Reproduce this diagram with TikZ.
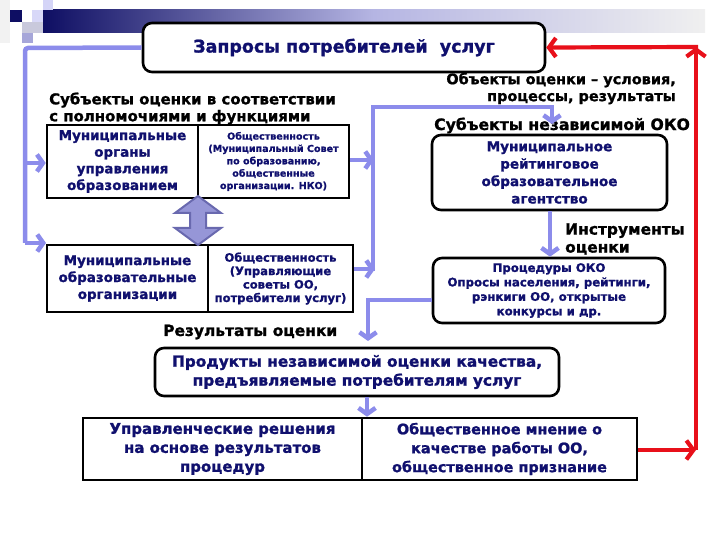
\documentclass[tikz,border=0pt]{standalone}
\usepackage{fontspec}
\setmainfont{DejaVu Sans}[BoldFeatures={FakeBold=1.2}]
\usetikzlibrary{arrows.meta}
\definecolor{navy}{RGB}{16,16,110}
\definecolor{peri}{RGB}{140,140,235}
\definecolor{redl}{RGB}{232,16,26}
\definecolor{darrowfill}{RGB}{150,150,215}
\definecolor{darrowline}{RGB}{105,105,175}
\newcommand{\fs}[2]{\fontsize{#1}{#2}\selectfont}
\tikzset{
  sqbox/.style={draw=black, line width=2.6bp, fill=white, inner sep=0pt, align=center, text=navy, font=\bfseries},
  rbox/.style={sqbox, rounded corners=9bp},
  lbl/.style={inner sep=0pt, font=\bfseries, text=black},
  bluearr/.style={draw=peri, line width=4.5bp, -{Straight Barb[length=6bp,width=17bp]}},
  blueln/.style={draw=peri, line width=4.5bp},
  redarr/.style={draw=redl, line width=4.2bp, -{Straight Barb[length=7bp,width=19bp]}},
  redln/.style={draw=redl, line width=4.2bp}
}
\begin{document}
\begin{tikzpicture}[x=1bp,y=-1bp]
\useasboundingbox (0,0) rectangle (720,540);
\fill[white] (0,0) rectangle (720,540);
% decoration
\shade[left color=navy!90!black, right color=gray!12, middle color=gray!55!blue!40] (43,10) rectangle (705,33);
\fill[gray!10] (0,0) rectangle (10,43);
\fill[navy!90!black] (10,10) rectangle (22,22);
\fill[gray!30!blue!18] (32,10) rectangle (43,22);
\fill[gray!30!blue!20] (43,0) rectangle (53,10);
\fill[blue!22!gray!35] (22,22) rectangle (43,33);
\fill[blue!40!gray!50] (22,33) rectangle (33,43);
% boxes
\node[rbox, minimum width=402bp, minimum height=49bp, font=\bfseries\fs{17.5}{20}] (top) at (344,47.5) {Запросы потребителей \ услуг};
\node[sqbox, minimum width=151bp, minimum height=73bp, font=\bfseries\fs{13.5}{16.7}] (ul1) at (122.5,161.5) {Муниципальные\\органы\\управления\\образованием};
\node[sqbox, minimum width=151bp, minimum height=73bp, font=\bfseries\fs{9.6}{12.4}] (ul2) at (273.5,161.5) {Общественность\\(Муниципальный Совет\\по образованию,\\общественные\\организации. НКО)};
\node[sqbox, minimum width=161bp, minimum height=67bp, font=\bfseries\fs{13.5}{17}] (ll1) at (127.5,278.5) {Муниципальные\\образовательные\\организации};
\node[sqbox, minimum width=145bp, minimum height=67bp, font=\bfseries\fs{11.6}{13.5}] (ll2) at (280.5,278.5) {Общественность\\(Управляющие\\советы ОО,\\потребители услуг)};
\node[rbox, minimum width=235bp, minimum height=75bp, font=\bfseries\fs{13.6}{17.5}] (ag) at (549.5,172.5) {Муниципальное\\рейтинговое\\образовательное\\агентство};
\node[rbox, minimum width=232bp, minimum height=65bp, font=\bfseries\fs{11.8}{14.5}] (pr) at (549,290.5) {Процедуры ОКО\\Опросы населения, рейтинги,\\рэнкиги ОО, открытые\\конкурсы и др.};
\node[rbox, minimum width=404bp, minimum height=48bp, font=\bfseries\fs{15.4}{19}] (pd) at (357,372) {Продукты независимой оценки качества,\\предъявляемые потребителям услуг};
\node[sqbox, minimum width=279bp, minimum height=62bp, font=\bfseries\fs{15}{19}] (b1) at (222.5,449) {Управленческие решения\\на основе результатов\\процедур};
\node[sqbox, minimum width=275bp, minimum height=62bp, font=\bfseries\fs{14.5}{19}] (b2) at (499.5,449) {Общественное мнение о\\качестве работы ОО,\\общественное признание};
% labels
\node[lbl, anchor=west, align=left, font=\bfseries\fs{15}{17}] (lsub) at (49,108.5) {Субъекты оценки в соответствии\\с полномочиями и функциями};
\node[lbl, anchor=east, align=right, font=\bfseries\fs{14.5}{17}] (lobj) at (676,88.5) {Объекты оценки – условия,\\процессы, результаты};
\node[lbl, anchor=west, font=\bfseries\fs{15.7}{17}] (lind) at (434,125.5) {Субъекты независимой ОКО};
\node[lbl, anchor=west, align=left, font=\bfseries\fs{15.5}{18}] (linst) at (565,239) {Инструменты\\оценки};
\node[lbl, anchor=west, font=\bfseries\fs{15.5}{17}] (lres) at (163,332) {Результаты оценки};
% double arrow
\draw[darrowline, fill=darrowfill, line width=2bp, line join=miter]
  (198,196) -- (221,213) -- (206,213) -- (206,228) -- (221,228) -- (198,245) -- (175,228) -- (190,228) -- (190,213) -- (175,213) -- cycle;
% blue connectors
\coordinate (c1) at (25,48);
\coordinate (c2) at (25,243);
\coordinate (c2e) at (46,243);
\coordinate (c3) at (25,163);
\draw[blueln, rounded corners=3bp] (top.west) -- (c1) -- (c2);
\draw[bluearr] (c2) -- (c2e);
\draw[bluearr] (c3) -- (ul1.west |- c3);
\coordinate (r1) at (374,160);
\coordinate (r2) at (375,269);
\coordinate (r3) at (373,107);
\coordinate (r4) at (552,107);
\coordinate (r5) at (552,124);
\draw[blueln] (373,271) -- (r3) -- (r4) -- (552,110);
\draw[bluearr] (ul2.east |- r1) -- (r1);
\draw[bluearr] (ll2.east |- r2) -- (r2);
\draw[bluearr] (552,107) -- (r5);
\draw[bluearr] (ag.south -| 550,0) -- (pr.north -| 550,0);
\coordinate (p1) at (368,300);
\coordinate (p2) at (368,341);
\draw[blueln] (pr.west |- p1) -- (p1) -- (368,310);
\draw[bluearr] (368,305) -- (p2);
\draw[bluearr] (pd.south -| 367,0) -- (b1.north -| 367,0);
% red connectors
\coordinate (q1) at (696,450);
\coordinate (q2) at (696,47);
\draw[redln] (q1) -- (696,60);
\draw[redarr] (b2.east |- q1) -- (q1);
\draw[redarr] (696,440) -- (q2);
\draw[redarr] (698,47) -- (top.east);
\end{tikzpicture}
\end{document}
